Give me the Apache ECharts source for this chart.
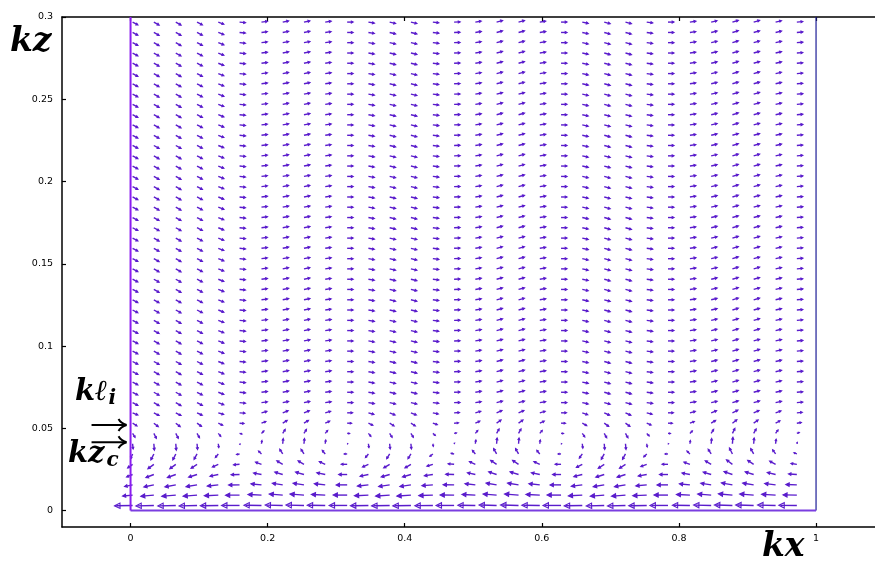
<!DOCTYPE html>
<html><head><meta charset="utf-8">
<script src="https://cdn.jsdelivr.net/npm/echarts@6/dist/echarts.min.js"></script>
<style>html,body{margin:0;padding:0;background:#fff}#c{width:875px;height:572px}</style>
</head><body><div id="c"></div>
<script>
// grid of arrow tails
const xCols = [0.003,0.034,0.066,0.097,0.128,0.159,0.191,0.222,0.253,0.284,0.316,0.347,0.378,0.409,0.441,0.472,0.503,0.534,0.566,0.597,0.628,0.659,0.691,0.722,0.753,0.784,0.816,0.847,0.878,0.909,0.941,0.972];
const zRows = [0.0031,0.0094,0.0156,0.0219,0.0281,0.0344,0.0406,0.0469,0.0531,0.0594,0.0656,0.0719,0.0781,0.0844,0.0906,0.0969,0.1031,0.1094,0.1156,0.1219,0.1281,0.1344,0.1406,0.1469,0.1531,0.1594,0.1656,0.1719,0.1781,0.1844,0.1906,0.1969,0.2031,0.2094,0.2156,0.2219,0.2281,0.2344,0.2406,0.2469,0.2531,0.2594,0.2656,0.2719,0.2781,0.2844,0.2906,0.2969];
const xTicks = [0,0.2,0.4,0.6,0.8,1];
const zTicks = [0,0.05,0.1,0.15,0.2,0.25,0.3];
const klI = 0.052;   // k l_i marker level
const kzC = 0.0415;  // k z_c marker level
const walls = {left:[[0,0],[0,0.3]], bottom:[[0,0],[1,0]], right:[[1,0],[1,0.3]]};

// horizontal (u) and vertical (w) velocity components, row by row from the bottom
const U0 = [-18,-18,-18,-18,-18,-18,-17.5,-17.5,-18,-18,-18,-18,-18,-18,-18,-18,-17.5,-17.5,-18,-18,-18,-18,-18,-18,-18,-18,-17.5,-17.5,-18,-18,-18,-18];
const W0 = [-0.4,-0.5,-0.5,-0.5,-0.3,0,0.3,0.4,0.4,0.3,0,-0.3,-0.4,-0.4,-0.2,0,0.3,0.5,0.5,0.3,0,-0.4,-0.5,-0.5,-0.3,0,0.3,0.4,0.5,0.5,0.4,0.1];
const U1 = [-10,-13,-14,-14,-14,-14,-13.5,-13.5,-14,-14,-14,-14,-14,-14,-14,-14,-13.5,-13.5,-14,-14,-14,-14,-14,-14,-14,-14,-13.5,-13.5,-14,-14,-14,-14];
const W1 = [-1,-1.2,-1.2,-1.1,-0.7,-0.1,0.6,1,1,0.7,0,-0.7,-1,-1,-0.5,0.1,0.7,1.1,1.1,0.7,0,-0.8,-1.1,-1.1,-0.6,0,0.6,1,1.2,1.1,0.8,0.2];
const U2 = [-8,-10,-11,-11,-11,-11,-10.5,-10.5,-11,-11,-11,-11,-11,-11,-11,-11,-10.5,-10.5,-11,-11,-11,-11,-11,-11,-11,-11,-10.5,-10.5,-11,-11,-11,-11];
const W2 = [-1.6,-2,-2,-1.8,-1.2,-0.2,1,1.6,1.6,1.2,0,-1.2,-1.6,-1.6,-0.8,0.2,1.2,1.8,1.8,1.2,0,-1.4,-1.8,-1.8,-1,0,1,1.6,2,1.8,1.4,0.4];
const U3 = [-6,-8,-8.5,-8.5,-8.5,-8.5,-8,-8,-8.5,-8.5,-8.5,-8.5,-8.5,-8.5,-8.5,-8.5,-8,-8,-8.5,-8.5,-8.5,-8.5,-8.5,-8.5,-8.5,-8.5,-8,-8,-8.5,-8.5,-8.5,-8.5];
const W3 = [-2.4,-3,-3,-2.7,-1.8,-0.3,1.5,2.4,2.4,1.8,0,-1.8,-2.4,-2.4,-1.2,0.3,1.8,2.7,2.7,1.8,0,-2.1,-2.7,-2.7,-1.5,0,1.5,2.4,3,2.7,2.1,0.6];
const U4 = [-5,-6,-6,-6,-6,-6,-6,-6,-6,-6,-6,-6,-6,-6,-6,-6,-6,-6,-6,-6,-6,-6,-6,-6,-6,-6,-6,-6,-6,-6,-6,-6];
const W4 = [-3.6,-4.5,-4.5,-4,-2.7,-0.5,2.2,3.6,3.6,2.7,0,-2.7,-3.6,-3.6,-1.8,0.5,2.7,4,4,2.7,0,-3.2,-4,-4,-2.2,0,2.2,3.6,4.5,4,3.2,0.9];
const U5 = [-2,-3,-3,-3,-3,-3,-3,-3,-3,-3,-3,-3,-3,-3,-3,-3,-3,-3,-3,-3,-3,-3,-3,-3,-3,-3,-3,-3,-3,-3,-3,-3];
const W5 = [-4.8,-6,-6,-5.4,-3.6,-0.6,3,4.8,4.8,3.6,0,-3.6,-4.8,-4.8,-2.4,0.6,3.6,5.4,5.4,3.6,0,-4.2,-5.4,-5.4,-3,0,3,4.8,6,5.4,4.2,1.2];
const U6 = [0.5,0.5,0.5,0.5,0.5,0.5,0.5,0.5,0.5,0.5,0.5,0.5,0.5,0.5,0.5,0.5,0.5,0.5,0.5,0.5,0.5,0.5,0.5,0.5,0.5,0.5,0.5,0.5,0.5,0.5,0.5,0.5];
const W6 = [-5.2,-6.5,-6.5,-5.8,-3.9,-0.6,3.2,5.2,5.2,3.9,0,-3.9,-5.2,-5.2,-2.6,0.6,3.9,5.8,5.8,3.9,0,-4.5,-5.8,-5.8,-3.2,0,3.2,5.2,6.5,5.8,4.5,1.3];
const U7 = [2.5,2.5,2.5,2.5,2.5,2.5,2.5,2.5,2.5,2.5,2.5,2.5,2.5,2.5,2.5,2.5,2.5,2.5,2.5,2.5,2.5,2.5,2.5,2.5,2.5,2.5,2.5,2.5,2.5,2.5,2.5,2.5];
const W7 = [-4,-5,-5,-4.5,-3,-0.5,2.5,4,4,3,0,-3,-4,-4,-2,0.5,3,4.5,4.5,3,0,-3.5,-4.5,-4.5,-2.5,0,2.5,4,5,4.5,3.5,1];
const U8 = [4.5,4.5,4.5,4.5,4.5,4.5,4.5,4.5,4.5,4.5,4.5,4.5,4.5,4.5,4.5,4.5,4.5,4.5,4.5,4.5,4.5,4.5,4.5,4.5,4.5,4.5,4.5,4.5,4.5,4.5,4.5,4.5];
const W8 = [-2.8,-3.5,-3.5,-3.2,-2.1,-0.3,1.8,2.8,2.8,2.1,0,-2.1,-2.8,-2.8,-1.4,0.3,2.1,3.2,3.2,2.1,0,-2.4,-3.2,-3.2,-1.8,0,1.8,2.8,3.5,3.2,2.4,0.7];
const U9 = [5.3,5.3,5.3,5.3,5.4,5.5,5.5,5.5,5.5,5.5,5.5,5.5,5.5,5.5,5.5,5.5,5.5,5.5,5.5,5.5,5.5,5.5,5.5,5.5,5.5,5.5,5.5,5.5,5.5,5.5,5.5,5.5];
const W9 = [-2.2,-2.7,-2.7,-2.4,-1.6,-0.3,1.4,2.2,2.2,1.6,0,-1.6,-2.2,-2.2,-1.1,0.3,1.6,2.4,2.4,1.6,0,-1.9,-2.4,-2.4,-1.4,0,1.4,2.2,2.7,2.4,1.9,0.5];
const UB = [5.3,5.3,5.3,5.4,5.6,6,6,6,6,6,6,6,6,6,6,6,6,6,6,6,6,6,6,6,6,6,6,6,6,6,6,6];
const WB = [-2.8,-3,-3,-2.8,-2.2,-0.6,0.8,1.2,1.2,0.9,0,-1,-1.4,-1.4,-0.7,0.2,1,1.6,1.6,1,0,-1.3,-1.6,-1.6,-0.8,0,0.9,1.4,1.8,1.7,1.4,0.5];

const uRows = [U0,U1,U2,U3,U4,U5,U6,U7,U8,U9,UB,UB,UB,UB,UB,UB,UB,UB,UB,UB,UB,UB,UB,UB,UB,UB,UB,UB,UB,UB,UB,UB,UB,UB,UB,UB,UB,UB,UB,UB,UB,UB,UB,UB,UB,UB,UB,UB];
const wRows = [W0,W1,W2,W3,W4,W5,W6,W7,W8,W9,WB,WB,WB,WB,WB,WB,WB,WB,WB,WB,WB,WB,WB,WB,WB,WB,WB,WB,WB,WB,WB,WB,WB,WB,WB,WB,WB,WB,WB,WB,WB,WB,WB,WB,WB,WB,WB,WB];

const field = [];
zRows.forEach((z, j) => xCols.forEach((x, i) => field.push([x, z, uRows[j][i], wRows[j][i]])));

const ARROW = '#5a1ccc';
function renderArrow(params, api) {
  const u = api.value(2), w = api.value(3);
  const p = api.coord([api.value(0), api.value(1)]);
  const ex = p[0] + u, ey = p[1] - w;
  const L = Math.hypot(u, w);
  if (L < 0.4) return {type: 'circle', shape: {cx: p[0], cy: p[1], r: 0.7}, style: {fill: ARROW}};
  const ux = u / L, uy = -w / L;
  const hl = Math.min(0.3 * L, 6), hw = hl * 0.5;
  const bx = ex - ux * hl, by = ey - uy * hl;
  return {type: 'group', children: [
    {type: 'line', shape: {x1: p[0], y1: p[1], x2: ex - ux * hl * 0.3, y2: ey - uy * hl * 0.3}, style: {stroke: ARROW, lineWidth: 1.4}},
    {type: 'polygon', shape: {points: [[ex, ey], [bx - uy * hw, by + ux * hw], [bx + uy * hw, by - ux * hw]]},
     style: {stroke: ARROW, lineWidth: 1.1, fill: L > 15 ? 'rgba(255,255,255,0)' : ARROW}}
  ]};
}

const chart = echarts.init(document.getElementById('c'), null, {renderer: 'canvas'});
const tickFont = {fontFamily: 'DejaVu Sans', fontSize: 9.5, color: '#000'};
const X_MIN = -0.1, X_MAX = 1.086, Z_MIN = -0.01, Z_MAX = 0.3;
const axisLineStyle = {show: true, onZero: false, lineStyle: {color: '#000', width: 1.5}};
chart.setOption({
  animation: false,
  grid: {left: 62, right: 0, top: 17, bottom: 45},
  xAxis: [
    {type: 'value', min: X_MIN, max: X_MAX, position: 'bottom',
     axisLine: axisLineStyle,
     axisTick: {show: true, inside: true, length: 4, customValues: xTicks, lineStyle: {color: '#000', width: 1.2}},
     axisLabel: Object.assign({show: true, margin: 7, customValues: xTicks}, tickFont),
     splitLine: {show: false}},
    {type: 'value', min: X_MIN, max: X_MAX, position: 'top',
     axisLine: axisLineStyle,
     axisTick: {show: true, inside: true, length: 4, customValues: xTicks, lineStyle: {color: '#000', width: 1.2}},
     axisLabel: {show: false}, splitLine: {show: false}}
  ],
  yAxis: [
    {type: 'value', min: Z_MIN, max: Z_MAX, position: 'left',
     axisLine: axisLineStyle,
     axisTick: {show: true, inside: true, length: 4, customValues: zTicks, lineStyle: {color: '#000', width: 1.2}},
     axisLabel: Object.assign({show: true, margin: 9, customValues: zTicks}, tickFont),
     splitLine: {show: false}}
  ],
  series: [
    {type: 'custom', xAxisIndex: 0, yAxisIndex: 0, data: field, renderItem: renderArrow, clip: false, silent: true},
    {type: 'line', data: walls.right, symbol: 'none', lineStyle: {color: '#1c1c96', width: 1.2}, silent: true},
    {type: 'line', data: walls.bottom, symbol: 'none', lineStyle: {color: '#7a3ee0', width: 2}, silent: true},
    {type: 'line', data: walls.left, symbol: 'none', lineStyle: {color: '#8a1cf0', width: 2}, silent: true}
  ]
});

function longArrow(pt) {
  const tipX = pt[0] - 4, y = pt[1];
  return [
    {type: 'line', shape: {x1: tipX - 35, y1: y, x2: tipX - 1, y2: y}, style: {stroke: '#000', lineWidth: 2}},
    {type: 'bezierCurve', shape: {x1: tipX - 8, y1: y - 6, cpx1: tipX - 6, cpy1: y - 2, x2: tipX, y2: y}, style: {stroke: '#000', lineWidth: 2, fill: null}},
    {type: 'bezierCurve', shape: {x1: tipX - 8, y1: y + 6, cpx1: tipX - 6, cpy1: y + 2, x2: tipX, y2: y}, style: {stroke: '#000', lineWidth: 2, fill: null}}
  ];
}
const pL = chart.convertToPixel({gridIndex: 0}, [0, klI]);
const pC = chart.convertToPixel({gridIndex: 0}, [0, kzC]);
const mathFont = '"DejaVu Serif", serif';
chart.setOption({
  graphic: [
    {type: 'text', left: 10, top: 26, style: {text: 'kz', font: 'italic bold 33px ' + mathFont, fill: '#000'}},
    {type: 'text', left: 762, top: 531, style: {text: 'kx', font: 'italic bold 33px ' + mathFont, fill: '#000'}},
    {type: 'text', left: 75, top: 378, style: {rich: {
      a: {font: 'italic bold 29px ' + mathFont, fill: '#000'},
      b: {font: 'italic bold 20px ' + mathFont, fill: '#000', padding: [12, 0, 0, 1]}},
      text: '{a|kℓ}{b|i}'}},
    {type: 'text', left: 68, top: 440, style: {rich: {
      a: {font: 'italic bold 29px ' + mathFont, fill: '#000'},
      b: {font: 'italic bold 20px ' + mathFont, fill: '#000', padding: [12, 0, 0, 2]}},
      text: '{a|kz}{b|c}'}}
  ].concat(longArrow(pL), longArrow(pC))
});
</script>
</body></html>
